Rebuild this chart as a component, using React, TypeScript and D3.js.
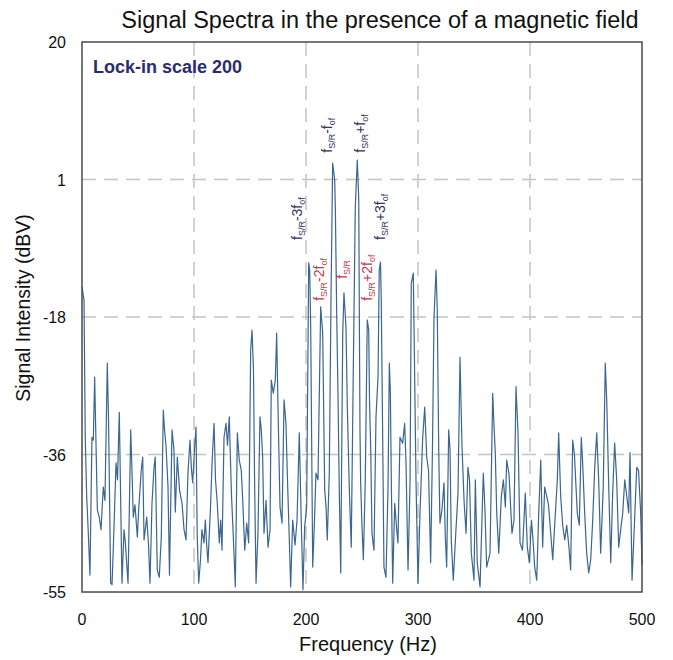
import React from "react";
import * as d3 from "d3";

const freqHz = [0,1.8,2.9,4.2,5.4,7.1,8.9,10.1,11.3,13.7,15.4,17.0,19.0,20.5,22.6,23.7,25.6,26.8,27.9,30.4,31.7,33.3,35.7,37.5,38.7,41.1,43.5,44.6,45.8,47.3,49.4,50.6,52.9,54.2,55.4,57.8,59.4,60.7,62.5,64.3,65.4,67.2,69.0,70.8,72.6,73.7,75.0,76.8,78.1,80.4,82.1,
83.3,85.1,87.1,89.3,91.1,92.9,94.6,96.4,97.8,98.8,100.6,101.8,102.9,104.2,105.8,107.1,108.9,110.1,111.3,112.5,114.9,116.1,117.9,119.2,120.8,122.6,123.8,125.0,126.8,128.6,129.9,131.5,133.3,135.1,136.9,138.7,140.4,142.2,143.5,145.3,147.1,148.8,150.6,151.8,153.1,154.2,155.4,157.1,158.9,160.1,161.3,162.5,164.3,166.1,167.9,169.0,170.8,172.6,173.8,175.0,176.8,178.6,180.4,182.1,183.3,185.1,186.3,188.1,190.2,192.0,194.0,195.8,197.3,198.8,200.6,
202.4,203.3,204.2,206.0,207.6,208.9,210.7,213.1,214.9,216.7,217.9,219.0,220.8,222.3,223.8,225.6,226.2,227.4,228.6,229.7,231.0,232.8,233.9,235.7,236.9,238.7,240.4,242.2,244.0,245.8,247.1,247.6,248.2,248.8,250.0,251.2,252.9,254.7,256.0,256.7,257.8,258.9,260.7,262.5,264.3,265.4,266.5,267.2,268.3,269.6,271.4,273.2,274.4,275.3,276.2,277.4,279.2,281.0,282.1,283.9,286.3,288.1,289.3,291.1,292.9,294.0,295.8,297.1,298.2,300.0,
301.8,304.2,306.0,307.8,309.4,311.3,312.9,314.3,316.1,317.2,318.5,319.6,321.4,323.2,324.4,325.6,327.4,328.6,329.7,331.5,333.9,335.7,337.5,339.3,341.1,342.9,344.6,346.0,347.6,350.0,351.2,352.9,355.4,358.3,359.8,361.3,364.3,366.7,367.9,369.0,370.3,372.1,374.4,376.2,378.0,379.2,381.3,383.9,385.7,387.5,389.3,391.1,393.3,395.8,397.6,399.4,
401.3,402.7,404.2,406.0,407.8,409.6,411.3,413.1,414.7,416.5,418.5,420.3,422.3,424.4,425.6,427.4,429.2,431.0,432.8,434.6,436.3,438.1,439.7,442.2,444.0,445.8,447.1,448.8,450.6,452.4,454.2,456.0,457.8,459.6,461.3,463.1,465.4,467.2,468.5,470.3,472.1,473.8,475.6,477.4,479.2,481.0,482.8,484.6,486.3,488.1,489.3,491.1,492.9,495.3,496.9,498.8,500.0];

const signalDBV = [-13.4,-15.2,-33.9,-42.0,-46.1,-52.7,-33.9,-34.3,-25.7,-43.8,-44.8,-46.5,-40.7,-42.5,-23.8,-31.5,-53.8,-54.0,-49.3,-37.4,-39.7,-30.5,-53.8,-46.5,-48.3,-53.8,-32.9,-38.4,-44.8,-43.1,-47.5,-43.8,-38.4,-36.6,-47.9,-44.8,-48.6,-53.8,-42.9,-38.0,-36.6,-52.0,-53.0,-47.5,-30.2,-32.9,-35.0,-40.7,-52.7,-32.9,-35.6,
-44.1,-36.6,-41.1,-42.9,-46.5,-47.9,-38.8,-34.3,-38.4,-40.1,-35.2,-32.5,-47.5,-53.8,-50.6,-46.5,-48.3,-45.2,-48.6,-51.0,-42.9,-37.4,-32.0,-39.7,-42.9,-48.3,-45.2,-49.3,-33.9,-32.0,-35.0,-31.1,-41.1,-47.5,-54.3,-33.3,-37.0,-38.4,-42.5,-49.3,-45.6,-48.3,-22.0,-19.3,-24.7,-41.1,-53.8,-47.0,-31.1,-32.9,-36.6,-47.0,-42.5,-48.9,-46.5,-26.1,-27.9,-26.1,-19.7,-29.8,-43.4,-45.6,-28.8,-32.0,-38.8,-47.9,-54.3,-45.2,-48.6,-45.2,-33.3,-45.6,-54.7,-46.1,-43.4,
-10.1,-11.1,-18.9,-51.6,-45.2,-38.8,-39.7,-16.1,-19.7,-41.1,-43.4,-47.9,-38.8,-15.2,3.5,1.2,-2.5,-17.0,-28.4,-41.1,-52.4,-19.7,-14.2,-18.9,-29.8,-41.1,-48.9,-25.1,-2.5,3.9,-1.5,-16.5,-32.9,-40.1,-46.1,-50.6,-40.1,-17.9,-19.3,-28.8,-35.6,-47.0,-49.3,-31.1,-25.7,-11.1,-10.0,-15.2,-31.5,-51.6,-53.0,-41.1,-23.8,-27.5,-40.1,-53.8,-42.9,-46.5,-48.3,-33.9,-34.7,-32.0,-37.4,-52.0,-40.1,-12.9,-11.5,-26.5,-39.7,-53.8,
-44.1,-33.9,-29.8,-36.6,-38.4,-51.0,-35.6,-17.5,-11.1,-16.5,-35.6,-45.6,-43.8,-40.1,-47.5,-51.6,-32.9,-35.6,-47.9,-53.4,-46.5,-41.5,-23.0,-35.2,-42.5,-47.0,-38.0,-39.7,-49.7,-53.4,-39.7,-51.0,-54.3,-38.8,-43.8,-51.6,-49.7,-27.9,-32.5,-36.0,-44.2,-49.7,-42.0,-39.7,-43.4,-37.0,-39.0,-47.0,-45.2,-27.0,-33.3,-48.3,-49.3,-41.5,-48.9,-51.0,
-45.2,-47.9,-51.6,-53.4,-44.2,-37.0,-48.9,-40.7,-41.8,-43.1,-47.0,-50.6,-45.2,-39.7,-33.3,-42.0,-45.9,-47.9,-45.9,-48.6,-52.0,-34.3,-36.3,-44.2,-45.9,-33.9,-37.7,-44.2,-49.7,-52.4,-50.6,-45.2,-38.0,-33.3,-39.7,-49.7,-40.7,-23.8,-28.8,-40.7,-51.0,-41.5,-34.7,-39.7,-48.9,-46.5,-44.2,-39.7,-41.8,-44.2,-36.0,-53.4,-47.0,-38.0,-38.4,-44.2,-51.3];

const xTicks = [0, 100, 200, 300, 400, 500];
const yTickValues = [20, 1.25, -17.5, -36.25, -55];
const yTickLabels = ["20", "1", "-18", "-36", "-55"];

const peakLabelText = ["-3f", "-2f", "-f", "", "+f", "+2f", "+3f"];
const peakLabelHz = [196.4, 216.1, 223.2, 236.6, 252.7, 258.9, 270.5];
const peakLabelDBV = [-7.0, -15.3, 4.9, -12.3, 4.9, -15.3, -7.0];
const peakLabelRed = [false, true, false, true, false, true, false];

const W = 673, H = 660;
const L = 82, R = 642, T = 42, B = 592;

export default function App() {
  const x = d3.scaleLinear().domain([0, 500]).range([L, R]);
  const y = d3.scaleLinear().domain([-55, 20]).range([B, T]);
  const pts: [number, number][] = freqHz.map((f, i) => [f, signalDBV[i]]);
  const line = d3.line<[number, number]>().x(d => x(d[0])).y(d => y(d[1]));
  const font = "'Liberation Sans', Arial, sans-serif";
  const navy = "#33335f";
  const red = "#c23a4e";

  return (
    <svg width={W} height={H} style={{ position: "absolute", left: 0, top: 0, background: "#fff" }} fontFamily={font}>
      <rect x={0} y={0} width={W} height={H} fill="#fff" />
      <text x={380} y={28} textAnchor="middle" fontSize={23.5} fill="#111">Signal Spectra in the presence of a magnetic field</text>
      {xTicks.slice(1, -1).map(t => (
        <line key={"gx" + t} x1={x(t)} x2={x(t)} y1={T} y2={B} stroke="#c4c4c4" strokeWidth={1.5} strokeDasharray="14,8" />
      ))}
      {yTickValues.slice(1, -1).map(t => (
        <line key={"gy" + t} x1={L} x2={R} y1={y(t)} y2={y(t)} stroke="#c4c4c4" strokeWidth={1.5} strokeDasharray="14,8" />
      ))}
      <path d={line(pts) || ""} fill="none" stroke="#3a6690" strokeWidth={1.2} strokeLinejoin="round" />
      <rect x={L} y={T} width={R - L} height={B - T} fill="none" stroke="#4a4a4a" strokeWidth={1.5} />
      {yTickValues.map((t, i) => (
        <text key={"yt" + i} x={66} y={y(t) + 6} textAnchor="end" fontSize={16} fill="#111">{yTickLabels[i]}</text>
      ))}
      {xTicks.map(t => (
        <text key={"xt" + t} x={x(t)} y={625} textAnchor="middle" fontSize={16} fill="#111">{t}</text>
      ))}
      <text x={368} y={651} textAnchor="middle" fontSize={20} fill="#111">Frequency (Hz)</text>
      <text transform={`translate(30,${308}) rotate(-90)`} textAnchor="middle" fontSize={19.5} fill="#111">Signal Intensity (dBV)</text>
      <text x={93} y={73} fontSize={18} fill="#2b2b70" fontWeight="bold">Lock-in scale 200</text>
      {peakLabelHz.map((hz, i) => (
        <text key={"pl" + i} transform={`translate(${x(hz)},${y(peakLabelDBV[i])}) rotate(-90)`} fontSize={14} fill={peakLabelRed[i] ? red : navy}>
          <tspan>f</tspan>
          <tspan fontSize={9} dy={3}>S/R</tspan>
          {peakLabelText[i] ? (
            <>
              <tspan dy={-3}>{peakLabelText[i]}</tspan>
              <tspan fontSize={9} dy={3}>of</tspan>
            </>
          ) : null}
        </text>
      ))}
    </svg>
  );
}
